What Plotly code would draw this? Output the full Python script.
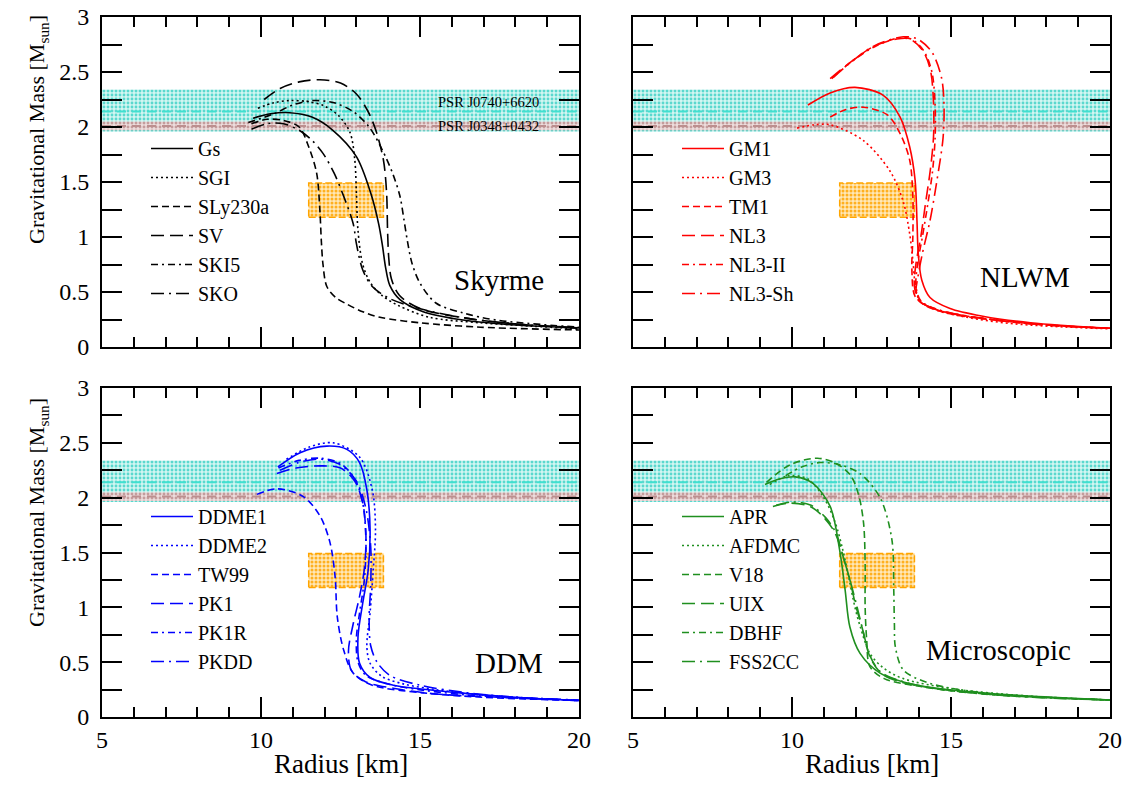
import plotly.graph_objects as go

SERIF = "'Liberation Serif', 'Times New Roman', Times, 'DejaVu Serif', serif"
# the page body has an 8px margin, so the figure is placed at (8, 8) in the window
OFF = 8
W, H = 1132 - 2 * OFF, 790 - 2 * OFF

# ---------------- data ----------------
R_RANGE = [5, 20]
psr_j0740 = [1.96, 2.14, 2.34]   # low, centre, high
psr_j0348 = [1.97, 2.01, 2.05]
box_r = [11.5, 13.85]
box_m = [1.18, 1.49]

skyrme_names = ["Gs", "SGI", "SLy230a", "SV", "SKI5", "SKO"]
skyrme_R = {
    "Gs": [9.75, 10.3, 10.9, 11.6, 12.26, 13.0, 13.45, 13.7, 13.82, 13.92, 14.05, 14.37, 15.1, 16.35, 18.0, 20.0],
    "SGI": [9.9, 10.4, 10.9, 11.5, 12.0, 12.45, 12.8, 12.95, 13.0, 13.05, 13.2, 13.45, 13.8, 14.3, 15.3, 16.9, 18.5, 20.0],
    "SLy230a": [9.7, 10.2, 10.7, 11.2, 11.5, 11.75, 11.85, 11.9, 11.95, 12.07, 12.35, 12.7, 13.2, 13.74, 15.0, 16.9, 20.0],
    "SV": [10.1, 10.6, 11.2, 11.85, 12.5, 13.0, 13.35, 13.6, 13.85, 13.95, 13.98, 14.02, 14.1, 14.35, 15.0, 16.5, 18.0, 20.0],
    "SKI5": [9.6, 10.4, 11.0, 11.6, 12.3, 12.9, 13.4, 13.8, 14.15, 14.37, 14.5, 14.6, 14.75, 15.0, 15.5, 16.35, 17.4, 20.0],
    "SKO": [9.7, 10.2, 10.7, 11.2, 11.6, 11.95, 12.3, 12.6, 12.9, 13.0, 13.2, 13.5, 14.05, 15.1, 16.5, 18.0, 20.0],
}
skyrme_M = {
    "Gs": [2.08, 2.12, 2.13, 2.09, 1.97, 1.73, 1.40, 1.12, 0.92, 0.72, 0.56, 0.43, 0.32, 0.245, 0.20, 0.175],
    "SGI": [2.17, 2.22, 2.24, 2.23, 2.19, 2.10, 1.95, 1.70, 1.40, 1.06, 0.75, 0.58, 0.47, 0.38, 0.27, 0.22, 0.19, 0.165],
    "SLy230a": [2.03, 2.07, 2.06, 2.00, 1.82, 1.58, 1.25, 0.95, 0.75, 0.55, 0.45, 0.39, 0.32, 0.27, 0.22, 0.18, 0.155],
    "SV": [2.25, 2.35, 2.41, 2.43, 2.40, 2.30, 2.15, 1.98, 1.70, 1.40, 1.06, 0.80, 0.62, 0.47, 0.35, 0.26, 0.21, 0.175],
    "SKI5": [2.04, 2.12, 2.20, 2.24, 2.22, 2.14, 2.00, 1.80, 1.57, 1.37, 1.15, 0.97, 0.76, 0.58, 0.40, 0.31, 0.245, 0.18],
    "SKO": [1.98, 2.03, 2.03, 1.97, 1.88, 1.76, 1.58, 1.37, 1.12, 0.94, 0.70, 0.55, 0.44, 0.34, 0.26, 0.21, 0.17],
}

nlwm_names = ["GM1", "GM3", "TM1", "NL3", "NL3-II", "NL3-Sh"]
nlwm_R = {
    "GM1": [10.5, 11.2, 11.98, 12.86, 13.4, 13.7, 13.87, 13.93, 13.97, 14.08, 14.34, 14.97, 16.0, 17.5, 20.0],
    "GM3": [10.16, 10.7, 11.2, 12.23, 13.08, 13.5, 13.7, 13.8, 13.87, 14.0, 14.5, 15.5, 17.0, 20.0],
    "TM1": [11.2, 11.7, 12.25, 13.0, 13.4, 13.7, 13.8, 13.8, 13.77, 13.87, 14.24, 15.0, 16.5, 18.0, 20.0],
    "NL3": [11.2, 11.8, 12.55, 13.3, 13.7, 14.1, 14.35, 14.45, 14.45, 14.35, 14.2, 14.05, 13.9, 13.85, 14.0, 14.65, 16.0, 18.0, 20.0],
    "NL3-II": [11.25, 11.85, 12.6, 13.35, 13.75, 14.15, 14.4, 14.5, 14.5, 14.42, 14.27, 14.1, 13.95, 13.9, 14.05, 14.7, 16.0, 18.0, 20.0],
    "NL3-Sh": [11.3, 11.9, 12.6, 13.5, 13.95, 14.4, 14.7, 14.78, 14.75, 14.55, 14.34, 14.1, 13.95, 13.9, 14.05, 14.7, 16.0, 18.0, 20.0],
}
nlwm_M = {
    "GM1": [2.20, 2.31, 2.36, 2.29, 2.09, 1.82, 1.52, 1.15, 0.85, 0.61, 0.45, 0.35, 0.28, 0.22, 0.17],
    "GM3": [1.99, 2.02, 2.02, 1.88, 1.60, 1.32, 1.03, 0.79, 0.58, 0.43, 0.34, 0.27, 0.21, 0.165],
    "TM1": [2.09, 2.16, 2.18, 2.11, 1.94, 1.70, 1.37, 1.00, 0.70, 0.46, 0.37, 0.30, 0.24, 0.20, 0.17],
    "NL3": [2.44, 2.58, 2.73, 2.80, 2.80, 2.70, 2.52, 2.22, 1.91, 1.61, 1.31, 1.00, 0.76, 0.55, 0.42, 0.33, 0.26, 0.20, 0.17],
    "NL3-II": [2.44, 2.59, 2.73, 2.81, 2.80, 2.69, 2.50, 2.20, 1.90, 1.60, 1.30, 1.00, 0.76, 0.55, 0.42, 0.33, 0.26, 0.20, 0.17],
    "NL3-Sh": [2.45, 2.60, 2.74, 2.82, 2.80, 2.68, 2.45, 2.20, 1.90, 1.50, 1.15, 0.85, 0.62, 0.50, 0.41, 0.33, 0.26, 0.20, 0.17],
}

ddm_names = ["DDME1", "DDME2", "TW99", "PK1", "PK1R", "PKDD"]
ddm_R = {
    "DDME1": [10.53, 11.23, 12.07, 12.7, 13.1, 13.33, 13.43, 13.37, 13.2, 13.05, 13.1, 13.43, 14.16, 15.2, 16.25, 18.0, 20.0],
    "DDME2": [10.8, 11.5, 12.27, 13.1, 13.5, 13.6, 13.53, 13.43, 13.33, 13.43, 13.8, 14.5, 15.5, 17.0, 20.0],
    "TW99": [9.87, 10.5, 11.33, 11.86, 12.17, 12.33, 12.4, 12.6, 12.9, 13.5, 15.1, 17.0, 20.0],
    "PK1": [10.5, 11.1, 11.9, 12.5, 12.95, 13.2, 13.3, 13.25, 13.1, 12.9, 12.75, 12.85, 13.3, 14.2, 15.5, 17.5, 20.0],
    "PK1R": [10.55, 11.2, 11.85, 12.5, 12.95, 13.2, 13.3, 13.25, 13.1, 13.0, 13.05, 13.3, 14.0, 15.2, 17.0, 20.0],
    "PKDD": [10.6, 11.3, 11.9, 12.5, 13.0, 13.3, 13.45, 13.45, 13.4, 13.45, 13.65, 14.05, 15.0, 16.5, 18.0, 20.0],
}
ddm_M = {
    "DDME1": [2.28, 2.41, 2.47, 2.44, 2.32, 2.07, 1.71, 1.34, 1.04, 0.73, 0.49, 0.36, 0.29, 0.25, 0.22, 0.18, 0.15],
    "DDME2": [2.35, 2.46, 2.50, 2.37, 2.07, 1.71, 1.34, 0.95, 0.64, 0.49, 0.37, 0.30, 0.25, 0.20, 0.15],
    "TW99": [2.03, 2.08, 2.01, 1.83, 1.59, 1.28, 0.91, 0.61, 0.40, 0.29, 0.22, 0.18, 0.15],
    "PK1": [2.22, 2.27, 2.29, 2.27, 2.15, 1.95, 1.65, 1.35, 1.10, 0.85, 0.60, 0.42, 0.32, 0.26, 0.21, 0.18, 0.15],
    "PK1R": [2.27, 2.34, 2.36, 2.31, 2.17, 1.95, 1.60, 1.25, 0.95, 0.72, 0.50, 0.38, 0.30, 0.24, 0.19, 0.15],
    "PKDD": [2.25, 2.33, 2.35, 2.30, 2.15, 1.90, 1.55, 1.20, 0.90, 0.65, 0.50, 0.38, 0.29, 0.22, 0.18, 0.155],
}

micro_names = ["APR", "AFDMC", "V18", "UIX", "DBHF", "FSS2CC"]
micro_R = {
    "APR": [9.15, 9.6, 10.1, 10.66, 11.2, 11.5, 11.67, 11.82, 12.14, 12.77, 13.5, 14.87, 17.5, 20.0],
    "AFDMC": [9.3, 9.9, 10.5, 11.0, 11.35, 11.6, 11.8, 11.98, 12.15, 12.45, 12.86, 13.5, 15.0, 17.5, 20.0],
    "V18": [9.2, 9.94, 10.8, 11.4, 11.85, 12.1, 12.25, 12.3, 12.3, 12.35, 12.45, 12.9, 14.0, 16.0, 20.0],
    "UIX": [9.4, 9.94, 10.57, 11.0, 11.35, 11.6, 11.82, 12.0, 12.2, 12.45, 12.8, 13.3, 14.5, 17.0, 20.0],
    "DBHF": [9.8, 10.3, 10.88, 11.5, 12.14, 12.77, 13.14, 13.2, 13.22, 13.25, 13.5, 14.3, 16.0, 18.0, 20.0],
    "FSS2CC": [9.5, 10.0, 10.6, 11.05, 11.38, 11.62, 11.85, 12.05, 12.22, 12.45, 12.75, 13.3, 14.5, 17.0, 20.0],
}
micro_M = {
    "APR": [2.12, 2.17, 2.19, 2.13, 1.92, 1.52, 1.16, 0.82, 0.58, 0.40, 0.32, 0.25, 0.19, 0.155],
    "AFDMC": [2.12, 2.20, 2.17, 2.00, 1.78, 1.52, 1.25, 1.00, 0.82, 0.58, 0.45, 0.35, 0.26, 0.19, 0.155],
    "V18": [2.14, 2.30, 2.36, 2.31, 2.20, 2.02, 1.77, 1.40, 1.00, 0.70, 0.46, 0.35, 0.28, 0.21, 0.155],
    "UIX": [1.92, 1.95, 1.92, 1.82, 1.68, 1.47, 1.25, 1.02, 0.82, 0.55, 0.40, 0.33, 0.26, 0.19, 0.155],
    "DBHF": [2.20, 2.28, 2.32, 2.30, 2.22, 2.00, 1.62, 1.16, 0.85, 0.64, 0.43, 0.31, 0.22, 0.18, 0.155],
    "FSS2CC": [1.93, 1.96, 1.93, 1.82, 1.68, 1.45, 1.22, 1.00, 0.80, 0.56, 0.42, 0.34, 0.26, 0.19, 0.155],
}

panel_labels = ["Skyrme", "NLWM", "DDM", "Microscopic"]
panel_colors = ["black", "#ff0000", "#0000ff", "#1f8f1f"]

# ---------------- styles ----------------
DASHES = ["solid", "2px,3px", "7px,4px", "13px,6px", "7px,4px,2px,4px", "13px,5px,2px,5px"]


def px(x):
    """window pixel x -> paper fraction"""
    return (x - OFF) / W


def py(y):
    """window pixel y -> paper fraction"""
    return 1 - (y - OFF) / H


fig = go.Figure()

panels = [
    (skyrme_names, skyrme_R, skyrme_M, "x", "y", "legend"),
    (nlwm_names, nlwm_R, nlwm_M, "x2", "y2", "legend2"),
    (ddm_names, ddm_R, ddm_M, "x3", "y3", "legend3"),
    (micro_names, micro_R, micro_M, "x4", "y4", "legend4"),
]

for p, (names, Rd, Md, xa, ya, lg) in enumerate(panels):
    x0, x1 = R_RANGE
    fig.add_trace(go.Scatter(
        x=[x0, x1, x1, x0, x0], y=[psr_j0740[0], psr_j0740[0], psr_j0740[2], psr_j0740[2], psr_j0740[0]],
        xaxis=xa, yaxis=ya, mode="none", fill="toself", fillcolor="rgba(0,0,0,0)",
        fillpattern=dict(shape=".", fgcolor="#5ad8ce", bgcolor="#d2f6f2", size=4, solidity=0.4),
        showlegend=False, hoverinfo="skip"))
    fig.add_trace(go.Scatter(
        x=[x0, x1, x1, x0, x0], y=[psr_j0348[0], psr_j0348[0], psr_j0348[2], psr_j0348[2], psr_j0348[0]],
        xaxis=xa, yaxis=ya, mode="none", fill="toself", fillcolor="rgba(0,0,0,0)",
        fillpattern=dict(shape=".", fgcolor="#c49c9c", bgcolor="#eddddd", size=4, solidity=0.4),
        showlegend=False, hoverinfo="skip"))
    fig.add_trace(go.Scatter(
        x=R_RANGE, y=[psr_j0740[1]] * 2, xaxis=xa, yaxis=ya, mode="lines",
        line=dict(color="#40e0d0", width=2, dash="9px,6px"), showlegend=False, hoverinfo="skip"))
    fig.add_trace(go.Scatter(
        x=R_RANGE, y=[psr_j0348[1]] * 2, xaxis=xa, yaxis=ya, mode="lines",
        line=dict(color="#bc8f8f", width=2, dash="9px,6px"), showlegend=False, hoverinfo="skip"))
    fig.add_trace(go.Scatter(
        x=[box_r[0], box_r[1], box_r[1], box_r[0], box_r[0]],
        y=[box_m[0], box_m[0], box_m[1], box_m[1], box_m[0]],
        xaxis=xa, yaxis=ya, mode="lines", fill="toself", fillcolor="rgba(0,0,0,0)",
        fillpattern=dict(shape=".", fgcolor="#ffb020", bgcolor="#ffe8b8", size=4, solidity=0.45),
        line=dict(color="#ffa500", width=1.5, dash="7px,3px"),
        showlegend=False, hoverinfo="skip"))
    for i, name in enumerate(names):
        fig.add_trace(go.Scatter(
            x=Rd[name], y=Md[name], name=name, xaxis=xa, yaxis=ya, legend=lg,
            mode="lines", line=dict(color=panel_colors[p], width=1.6, dash=DASHES[i],
                                    shape="spline", smoothing=0.9)))

xL = [px(102), px(579)]
xR = [px(633), px(1110)]
yT = [py(347), py(17)]
yB = [py(717), py(388)]

tickfont = dict(family=SERIF, size=24, color="black")


def xaxis(domain, anchor, labels):
    return dict(domain=domain, anchor=anchor, range=R_RANGE, tickmode="linear", tick0=5, dtick=5,
                ticks="inside", ticklen=20, tickwidth=1.5, tickcolor="black", automargin=False,
                showline=True, linecolor="black", linewidth=2, mirror="ticks",
                showgrid=False, zeroline=False, showticklabels=labels, tickfont=tickfont,
                ticklabelstandoff=0, ticklabeloverflow="allow",
                minor=dict(tickmode="linear", tick0=5, dtick=1, ticks="inside", ticklen=10,
                           tickwidth=1.5, tickcolor="black", showgrid=False))


def yaxis(domain, anchor, labels):
    return dict(domain=domain, anchor=anchor, range=[0, 3], tickmode="linear", tick0=0, dtick=0.5,
                ticks="inside", ticklen=20, tickwidth=1.5, tickcolor="black", automargin=False,
                showline=True, linecolor="black", linewidth=2, mirror="ticks",
                showgrid=False, zeroline=False, showticklabels=labels, tickfont=tickfont,
                ticklabelstandoff=6, ticklabeloverflow="allow",
                minor=dict(tickmode="linear", tick0=0, dtick=0.25, ticks="inside", ticklen=20,
                           tickwidth=1.5, tickcolor="black", showgrid=False))


legend_common = dict(xanchor="left", yanchor="top", bgcolor="rgba(0,0,0,0)", borderwidth=0,
                     font=dict(family=SERIF, size=20, color="black"), itemwidth=42,
                     tracegroupgap=0, itemclick=False, itemdoubleclick=False)

annotations = []
label_pos = [("x", "y", 17.48, 0.61), ("x2", "y2", 17.33, 0.64), ("x3", "y3", 17.8, 0.49), ("x4", "y4", 16.5, 0.61)]
for text, (xa, ya, xr, yr) in zip(panel_labels, label_pos):
    annotations.append(dict(text=text, x=xr, y=yr, xref=xa, yref=ya, showarrow=False,
                            xanchor="center", yanchor="middle",
                            font=dict(family=SERIF, size=29, color="black")))
annotations.append(dict(text="PSR J0740+6620", x=17.14, y=2.23, xref="x", yref="y", showarrow=False,
                        xanchor="center", yanchor="middle",
                        font=dict(family=SERIF, size=14.5, color="black")))
annotations.append(dict(text="PSR J0348+0432", x=17.14, y=2.01, xref="x", yref="y", showarrow=False,
                        xanchor="center", yanchor="middle",
                        font=dict(family=SERIF, size=14.5, color="black")))
for yc in (130, 513):
    annotations.append(dict(text="Gravitational Mass [M<sub>sun</sub>]", x=px(38), y=py(yc), xref="paper",
                            yref="paper", showarrow=False, textangle=-90,
                            xanchor="center", yanchor="middle",
                            font=dict(family=SERIF, size=22, color="black")))
for xc in (341, 872):
    annotations.append(dict(text="Radius [km]", x=px(xc), y=py(781), xref="paper", yref="paper",
                            showarrow=False, xanchor="center", yanchor="bottom",
                            font=dict(family=SERIF, size=27, color="black")))

fig.update_layout(
    template="none",
    width=W, height=H, margin=dict(l=0, r=0, t=0, b=0, pad=0, autoexpand=False),
    paper_bgcolor="white", plot_bgcolor="white", showlegend=True,
    font=dict(family=SERIF, size=22, color="black"),
    xaxis=xaxis(xL, "y", False), yaxis=yaxis(yT, "x", True),
    xaxis2=xaxis(xR, "y2", False), yaxis2=yaxis(yT, "x2", False),
    xaxis3=xaxis(xL, "y3", True), yaxis3=yaxis(yB, "x3", True),
    xaxis4=xaxis(xR, "y4", True), yaxis4=yaxis(yB, "x4", False),
    legend=dict(x=px(146), y=py(129), **legend_common),
    legend2=dict(x=px(677), y=py(129), **legend_common),
    legend3=dict(x=px(146), y=py(497), **legend_common),
    legend4=dict(x=px(677), y=py(497), **legend_common),
    annotations=annotations,
)

fig.write_html("out.html")
